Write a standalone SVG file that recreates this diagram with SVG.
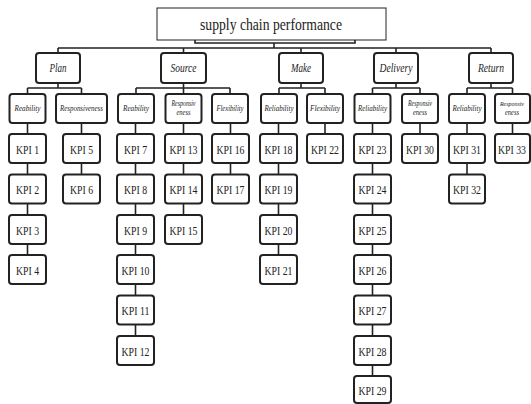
<svg xmlns="http://www.w3.org/2000/svg" width="531" height="404" viewBox="0 0 531 404">
<style>
.bx{fill:#fff;stroke:#222;stroke-width:2}
.top{fill:#fff;stroke:#222;stroke-width:1}
.ln{fill:none;stroke:#222;stroke-width:1.6}
text{font-family:"Liberation Serif","Times New Roman",serif;fill:#222;text-anchor:middle}
.t{font-size:16px}
.c{font-size:12.5px;font-style:italic}
.s{font-size:8px;font-style:italic}
.k{font-size:13px}
</style>
<rect width="531" height="404" fill="#fff"/>
<g id="connectors" class="ln">
<path d="M195 40V43H355V40"/>
<path d="M274 43V48M58 48H491M58 48V53M183.5 48V53M301 48V53M396 48V53M491 48V53"/>
<path d="M58 83V88M27.5 88H81.5M27.5 88V94M81.5 88V94"/>
<path d="M183.5 83V88M136 88H230M136 88V94M183.5 88V94M230 88V94"/>
<path d="M301 83V88M279 88H325M279 88V94M325 88V94"/>
<path d="M396 83V88M372.5 88H420M372.5 88V94M420 88V94"/>
<path d="M491 83V88M467 88H512.5M467 88V94M512.5 88V94"/>
<path d="M27.5 123V255"/>
<path d="M81.5 123V175"/>
<path d="M135.5 123V336"/>
<path d="M183.5 123V215"/>
<path d="M230.5 123V175"/>
<path d="M278.5 123V255"/>
<path d="M325 123V134"/>
<path d="M372.5 123V376"/>
<path d="M420 123V134"/>
<path d="M467 123V175"/>
<path d="M512.5 123V134"/>
</g>
<g id="root"><rect class="top" x="157" y="8" width="229" height="32"/><text class="t" x="271" y="30" textLength="142" lengthAdjust="spacingAndGlyphs">supply chain performance</text></g>
<g id="plan"><rect class="bx" x="36" y="53" width="44" height="30" rx="3"/><text class="c" x="58" y="72" textLength="17" lengthAdjust="spacingAndGlyphs">Plan</text></g>
<g id="source"><rect class="bx" x="161" y="53" width="45" height="30" rx="3"/><text class="c" x="183.5" y="72" textLength="26" lengthAdjust="spacingAndGlyphs">Source</text></g>
<g id="make"><rect class="bx" x="279" y="53" width="44" height="30" rx="3"/><text class="c" x="301" y="72" textLength="20" lengthAdjust="spacingAndGlyphs">Make</text></g>
<g id="delivery"><rect class="bx" x="374" y="53" width="44" height="30" rx="3"/><text class="c" x="396" y="72" textLength="33" lengthAdjust="spacingAndGlyphs">Delivery</text></g>
<g id="return"><rect class="bx" x="469" y="53" width="44" height="30" rx="3"/><text class="c" x="491" y="72" textLength="26" lengthAdjust="spacingAndGlyphs">Return</text></g>
<g id="plan-rel"><rect class="bx" x="9.5" y="94" width="36" height="29" rx="3"/><text class="s" x="27.5" y="111" textLength="26" lengthAdjust="spacingAndGlyphs">Reability</text></g>
<g id="plan-resp"><rect class="bx" x="56" y="94" width="51" height="29" rx="3"/><text class="s" x="81.5" y="111" textLength="43" lengthAdjust="spacingAndGlyphs">Responsiveness</text></g>
<g id="source-rel"><rect class="bx" x="118" y="94" width="36" height="29" rx="3"/><text class="s" x="136" y="111" textLength="26" lengthAdjust="spacingAndGlyphs">Reability</text></g>
<g id="source-resp"><rect class="bx" x="165.5" y="94" width="36" height="29" rx="3"/><text class="s" x="183.5" y="106" textLength="24" lengthAdjust="spacingAndGlyphs">Responsiv</text><text class="s" x="183.5" y="115" textLength="14" lengthAdjust="spacingAndGlyphs">eness</text></g>
<g id="source-flex"><rect class="bx" x="212" y="94" width="36" height="29" rx="3"/><text class="s" x="230" y="111" textLength="27" lengthAdjust="spacingAndGlyphs">Flexibility</text></g>
<g id="make-rel"><rect class="bx" x="261" y="94" width="36" height="29" rx="3"/><text class="s" x="279" y="111" textLength="29" lengthAdjust="spacingAndGlyphs">Reliability</text></g>
<g id="make-flex"><rect class="bx" x="307" y="94" width="36" height="29" rx="3"/><text class="s" x="325" y="111" textLength="30" lengthAdjust="spacingAndGlyphs">Flexibility</text></g>
<g id="delivery-rel"><rect class="bx" x="354.5" y="94" width="36" height="29" rx="3"/><text class="s" x="372.5" y="111" textLength="29" lengthAdjust="spacingAndGlyphs">Reliability</text></g>
<g id="delivery-resp"><rect class="bx" x="402" y="94" width="36" height="29" rx="3"/><text class="s" x="420" y="106" textLength="24" lengthAdjust="spacingAndGlyphs">Responsiv</text><text class="s" x="420" y="115" textLength="14" lengthAdjust="spacingAndGlyphs">eness</text></g>
<g id="return-rel"><rect class="bx" x="449" y="94" width="36" height="29" rx="3"/><text class="s" x="467" y="111" textLength="29" lengthAdjust="spacingAndGlyphs">Reliability</text></g>
<g id="return-resp"><rect class="bx" x="495" y="94" width="35" height="29" rx="3"/><text class="s" x="512" y="106" style="font-size:7px" textLength="24" lengthAdjust="spacingAndGlyphs">Responsiv</text><text class="s" x="512" y="115" style="font-size:7.5px" textLength="14" lengthAdjust="spacingAndGlyphs">eness</text></g>
<g id="kpi1"><rect class="bx" x="9" y="134" width="37" height="29" rx="3"/><text class="k" x="27.5" y="153.5" textLength="23" lengthAdjust="spacingAndGlyphs">KPI 1</text></g>
<g id="kpi2"><rect class="bx" x="9" y="174.5" width="37" height="29" rx="3"/><text class="k" x="27.5" y="194" textLength="23" lengthAdjust="spacingAndGlyphs">KPI 2</text></g>
<g id="kpi3"><rect class="bx" x="9" y="215" width="37" height="29" rx="3"/><text class="k" x="27.5" y="234.5" textLength="23" lengthAdjust="spacingAndGlyphs">KPI 3</text></g>
<g id="kpi4"><rect class="bx" x="9" y="255" width="37" height="29" rx="3"/><text class="k" x="27.5" y="274.5" textLength="23" lengthAdjust="spacingAndGlyphs">KPI 4</text></g>
<g id="kpi5"><rect class="bx" x="63" y="134" width="37" height="29" rx="3"/><text class="k" x="81.5" y="153.5" textLength="23" lengthAdjust="spacingAndGlyphs">KPI 5</text></g>
<g id="kpi6"><rect class="bx" x="63" y="174.5" width="37" height="29" rx="3"/><text class="k" x="81.5" y="194" textLength="23" lengthAdjust="spacingAndGlyphs">KPI 6</text></g>
<g id="kpi7"><rect class="bx" x="117" y="134" width="37" height="29" rx="3"/><text class="k" x="135.5" y="153.5" textLength="23" lengthAdjust="spacingAndGlyphs">KPI 7</text></g>
<g id="kpi8"><rect class="bx" x="117" y="174.5" width="37" height="29" rx="3"/><text class="k" x="135.5" y="194" textLength="23" lengthAdjust="spacingAndGlyphs">KPI 8</text></g>
<g id="kpi9"><rect class="bx" x="117" y="215" width="37" height="29" rx="3"/><text class="k" x="135.5" y="234.5" textLength="23" lengthAdjust="spacingAndGlyphs">KPI 9</text></g>
<g id="kpi10"><rect class="bx" x="117" y="255" width="37" height="29" rx="3"/><text class="k" x="135.5" y="274.5" textLength="28" lengthAdjust="spacingAndGlyphs">KPI 10</text></g>
<g id="kpi11"><rect class="bx" x="117" y="295.5" width="37" height="29" rx="3"/><text class="k" x="135.5" y="315" textLength="28" lengthAdjust="spacingAndGlyphs">KPI 11</text></g>
<g id="kpi12"><rect class="bx" x="117" y="336" width="37" height="29" rx="3"/><text class="k" x="135.5" y="355.5" textLength="28" lengthAdjust="spacingAndGlyphs">KPI 12</text></g>
<g id="kpi13"><rect class="bx" x="165" y="134" width="37" height="29" rx="3"/><text class="k" x="183.5" y="153.5" textLength="28" lengthAdjust="spacingAndGlyphs">KPI 13</text></g>
<g id="kpi14"><rect class="bx" x="165" y="174.5" width="37" height="29" rx="3"/><text class="k" x="183.5" y="194" textLength="28" lengthAdjust="spacingAndGlyphs">KPI 14</text></g>
<g id="kpi15"><rect class="bx" x="165" y="215" width="37" height="29" rx="3"/><text class="k" x="183.5" y="234.5" textLength="28" lengthAdjust="spacingAndGlyphs">KPI 15</text></g>
<g id="kpi16"><rect class="bx" x="212" y="134" width="37" height="29" rx="3"/><text class="k" x="230.5" y="153.5" textLength="28" lengthAdjust="spacingAndGlyphs">KPI 16</text></g>
<g id="kpi17"><rect class="bx" x="212" y="174.5" width="37" height="29" rx="3"/><text class="k" x="230.5" y="194" textLength="28" lengthAdjust="spacingAndGlyphs">KPI 17</text></g>
<g id="kpi18"><rect class="bx" x="260" y="134" width="37" height="29" rx="3"/><text class="k" x="278.5" y="153.5" textLength="28" lengthAdjust="spacingAndGlyphs">KPI 18</text></g>
<g id="kpi19"><rect class="bx" x="260" y="174.5" width="37" height="29" rx="3"/><text class="k" x="278.5" y="194" textLength="28" lengthAdjust="spacingAndGlyphs">KPI 19</text></g>
<g id="kpi20"><rect class="bx" x="260" y="215" width="37" height="29" rx="3"/><text class="k" x="278.5" y="234.5" textLength="28" lengthAdjust="spacingAndGlyphs">KPI 20</text></g>
<g id="kpi21"><rect class="bx" x="260" y="255" width="37" height="29" rx="3"/><text class="k" x="278.5" y="274.5" textLength="28" lengthAdjust="spacingAndGlyphs">KPI 21</text></g>
<g id="kpi22"><rect class="bx" x="307" y="134" width="36" height="29" rx="3"/><text class="k" x="325" y="153.5" textLength="28" lengthAdjust="spacingAndGlyphs">KPI 22</text></g>
<g id="kpi23"><rect class="bx" x="354" y="134" width="37" height="29" rx="3"/><text class="k" x="372.5" y="153.5" textLength="28" lengthAdjust="spacingAndGlyphs">KPI 23</text></g>
<g id="kpi24"><rect class="bx" x="354" y="174.5" width="37" height="29" rx="3"/><text class="k" x="372.5" y="194" textLength="28" lengthAdjust="spacingAndGlyphs">KPI 24</text></g>
<g id="kpi25"><rect class="bx" x="354" y="215" width="37" height="29" rx="3"/><text class="k" x="372.5" y="234.5" textLength="28" lengthAdjust="spacingAndGlyphs">KPI 25</text></g>
<g id="kpi26"><rect class="bx" x="354" y="255" width="37" height="29" rx="3"/><text class="k" x="372.5" y="274.5" textLength="28" lengthAdjust="spacingAndGlyphs">KPI 26</text></g>
<g id="kpi27"><rect class="bx" x="354" y="295.5" width="37" height="29" rx="3"/><text class="k" x="372.5" y="315" textLength="28" lengthAdjust="spacingAndGlyphs">KPI 27</text></g>
<g id="kpi28"><rect class="bx" x="354" y="336" width="37" height="29" rx="3"/><text class="k" x="372.5" y="355.5" textLength="28" lengthAdjust="spacingAndGlyphs">KPI 28</text></g>
<g id="kpi29"><rect class="bx" x="354" y="376" width="37" height="27" rx="3"/><text class="k" x="372.5" y="395" textLength="28" lengthAdjust="spacingAndGlyphs">KPI 29</text></g>
<g id="kpi30"><rect class="bx" x="402" y="134" width="36" height="29" rx="3"/><text class="k" x="420" y="153.5" textLength="28" lengthAdjust="spacingAndGlyphs">KPI 30</text></g>
<g id="kpi31"><rect class="bx" x="449" y="134" width="36" height="29" rx="3"/><text class="k" x="467" y="153.5" textLength="28" lengthAdjust="spacingAndGlyphs">KPI 31</text></g>
<g id="kpi32"><rect class="bx" x="449" y="174.5" width="36" height="29" rx="3"/><text class="k" x="467" y="194" textLength="28" lengthAdjust="spacingAndGlyphs">KPI 32</text></g>
<g id="kpi33"><rect class="bx" x="495" y="134" width="35" height="29" rx="3"/><text class="k" x="512" y="153.5" style="font-size:11.5px" textLength="28" lengthAdjust="spacingAndGlyphs">KPI 33</text></g>
</svg>
